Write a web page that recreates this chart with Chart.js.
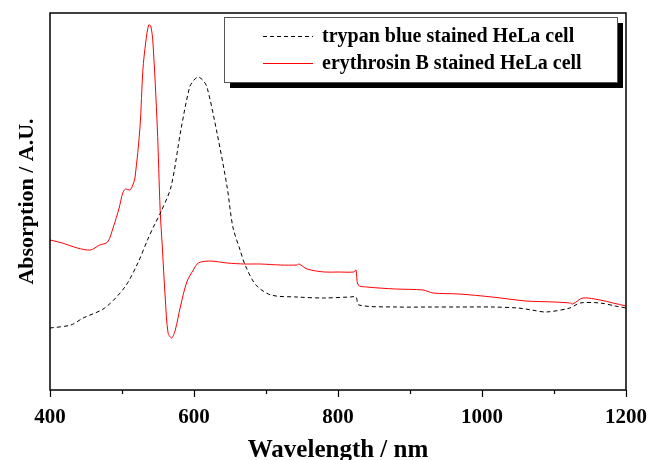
<!DOCTYPE html>
<html>
<head>
<meta charset="utf-8">
<script src="https://cdn.jsdelivr.net/npm/chart.js@4/dist/chart.umd.min.js"></script>
<style>
  html, body { margin: 0; padding: 0; background: #fff; }
  #wrap { width: 659px; height: 460px; }
</style>
</head>
<body>
<div id="wrap"><canvas id="spectrum"></canvas></div>
<script>
// trypan blue stained HeLa cell (dashed black)
const trypanNm  = [400, 429, 446, 476, 504, 522, 536, 545, 554, 568, 582, 594, 600, 606, 612, 618, 632, 646, 654, 664, 671, 686, 707, 743, 780, 817, 825, 829, 882, 930, 968, 1014, 1050, 1069, 1089, 1122, 1136, 1164, 1185, 1200];
const trypanAbs = [ 62,  65,  72,  82, 103, 127, 151, 165, 178, 203, 261, 303, 310, 313, 310, 303, 257, 203, 163, 140, 125, 105,  95,  93,  92,  93,  93,  85,  83,  83,  83,   83,   82,   80,   78,   82,   87,   87,   84,   82];

// erythrosin B stained HeLa cell (solid red)
const erythNm  = [400, 417, 438, 456, 469, 480, 488, 496, 501, 505, 511, 515, 518, 525, 529, 533, 537, 540, 543, 549, 553, 556, 560, 564, 569, 574, 581, 590, 599, 606, 622, 646, 670, 692, 720, 743, 746, 757, 781, 800, 822, 825, 828, 840, 880, 918, 932, 968, 1014, 1061, 1100, 1122, 1126, 1140, 1164, 1182, 1200];
const erythAbs = [150, 147, 142, 140, 145, 148, 163, 182, 197, 201, 200, 205, 212, 263, 320, 348, 365, 364, 347, 263, 180, 143,  93,  57,  52,  60,  83, 108, 120, 127, 129, 127, 126, 126, 125, 125, 126, 121, 118, 118, 118, 120, 105, 103, 101, 100,  97,  96,   93,   89,   88,   87,   86,   92,   90,   87,   84];

const xTicks = [400, 600, 800, 1000, 1200];

const toPoints = (xs, ys) => xs.map((x, i) => ({ x, y: ys[i] }));

const SERIF = '"Liberation Serif", "Times New Roman", serif';

// frame, outward tick marks and the shadowed legend box
const decorations = {
  id: 'decorations',
  afterDraw(chart) {
    const { ctx, chartArea: a, scales } = chart;
    ctx.save();
    ctx.strokeStyle = '#000';
    ctx.lineWidth = 1.5;
    ctx.strokeRect(a.left, a.top, a.right - a.left, a.bottom - a.top);

    ctx.lineWidth = 1.2;
    scales.x.ticks.forEach(t => {
      const px = Math.round(scales.x.getPixelForValue(t.value)) + 0.5;
      const len = xTicks.includes(t.value) ? 7 : 4;
      ctx.beginPath();
      ctx.moveTo(px, a.bottom);
      ctx.lineTo(px, a.bottom + len);
      ctx.stroke();
    });

    // legend
    const bx = 224, by = 17, bw = 393, bh = 65;
    ctx.fillStyle = '#000';
    ctx.fillRect(bx + 6, by + 6, bw, bh);
    ctx.fillStyle = '#fff';
    ctx.fillRect(bx, by, bw, bh);
    ctx.lineWidth = 1;
    ctx.strokeStyle = '#555';
    ctx.strokeRect(bx + 0.5, by + 0.5, bw, bh);

    ctx.font = 'bold 20px ' + SERIF;
    ctx.textBaseline = 'middle';
    const rows = [36, 63];
    chart.data.datasets.forEach((ds, i) => {
      const y = rows[i] + 0.5;
      ctx.strokeStyle = ds.borderColor;
      ctx.lineWidth = 1;
      ctx.setLineDash(ds.borderDash || []);
      ctx.beginPath();
      ctx.moveTo(263, y);
      ctx.lineTo(313, y);
      ctx.stroke();
      ctx.setLineDash([]);
      ctx.fillStyle = '#000';
      ctx.fillText(ds.label, 322, rows[i] + 1);
    });
    ctx.restore();
  }
};

new Chart(document.getElementById('spectrum'), {
  type: 'line',
  data: {
    datasets: [
      {
        label: 'trypan blue stained HeLa cell',
        data: toPoints(trypanNm, trypanAbs),
        borderColor: '#000',
        borderWidth: 1,
        borderDash: [4, 3],
        pointRadius: 0,
        tension: 0.3,
      },
      {
        label: 'erythrosin B stained HeLa cell',
        data: toPoints(erythNm, erythAbs),
        borderColor: '#ff0000',
        borderWidth: 1,
        pointRadius: 0,
        tension: 0.3,
      },
    ],
  },
  options: {
    responsive: true,
    maintainAspectRatio: false,
    animation: false,
    layout: { padding: { left: 0, right: 33, top: 13, bottom: 0 } },
    plugins: { legend: { display: false }, tooltip: { enabled: false } },
    scales: {
      x: {
        type: 'linear',
        min: 400,
        max: 1200,
        afterFit: s => { s.height = 70; },
        grid: { display: false },
        border: { display: false },
        ticks: {
          stepSize: 100,
          autoSkip: false,
          maxRotation: 0,
          padding: 7,
          color: '#000',
          font: { family: SERIF, size: 21, weight: 'bold' },
          callback: v => (xTicks.includes(v) ? String(v) : ''),
        },
        title: {
          display: true,
          text: 'Wavelength / nm',
          color: '#000',
          padding: { top: 0, bottom: -3 },
          font: { family: SERIF, size: 25, weight: 'bold', lineHeight: 1 },
        },
      },
      y: {
        min: 0,
        max: 377,
        afterFit: s => { s.width = 50; },
        grid: { display: false },
        border: { display: false },
        ticks: { display: false },
        title: {
          display: true,
          text: 'Absorption / A.U.',
          color: '#000',
          padding: { top: 16, bottom: 0 },
          font: { family: SERIF, size: 22, weight: 'bold', lineHeight: 1 },
        },
      },
    },
  },
  plugins: [decorations],
});
</script>
</body>
</html>
